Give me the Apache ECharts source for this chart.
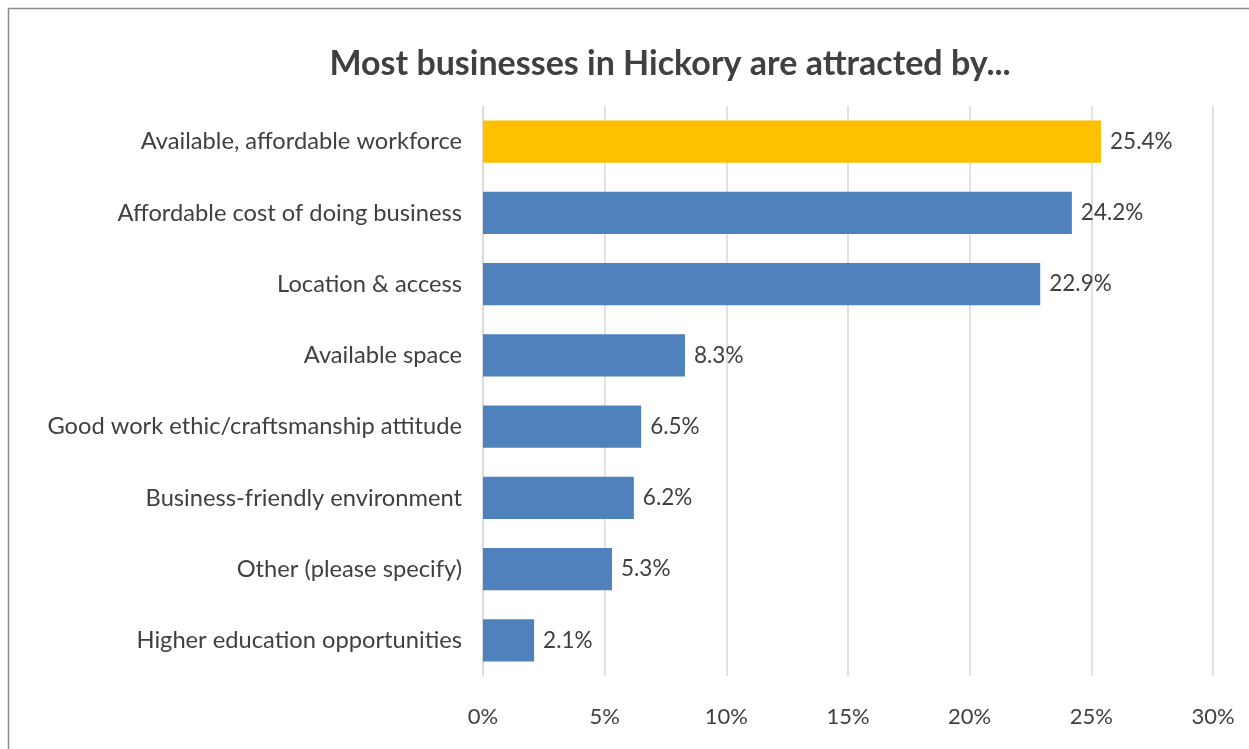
<!DOCTYPE html>
<html>
<head>
<meta charset="utf-8">
<script src="https://cdn.jsdelivr.net/npm/echarts@6/dist/echarts.min.js"></script>
<style>
  html, body { margin: 0; padding: 0; background: #ffffff; }
  #chart { width: 1249px; height: 749px; }
</style>
</head>
<body>
<div id="chart"></div>
<script>
// Reasons businesses give for locating in Hickory (share of responses, %)
const categories = [
  'Available, affordable workforce',
  'Affordable cost of doing business',
  'Location & access',
  'Available space',
  'Good work ethic/craftsmanship attitude',
  'Business-friendly environment',
  'Other (please specify)',
  'Higher education opportunities'
];
const values = [25.4, 24.2, 22.9, 8.3, 6.5, 6.2, 5.3, 2.1];
const highlightIndex = 0;

const FONT = 'Lato, "Open Sans", sans-serif';
const TEXT = '#404040';

const chart = echarts.init(document.getElementById('chart'), null, { renderer: 'canvas' });

chart.setOption({
  backgroundColor: '#ffffff',
  animation: false,
  title: {
    text: 'Most businesses in Hickory are attracted by...',
    left: 665,
    textAlign: 'center',
    top: 42,
    textStyle: { fontFamily: FONT, fontSize: 34, fontWeight: 'bold', color: TEXT }
  },
  graphic: [{
    type: 'rect',
    shape: { x: 8.5, y: 8.5, width: 1300, height: 800 },
    style: { fill: 'none', stroke: '#8c8c8c', lineWidth: 1.5 },
    silent: true
  }],
  grid: { left: 483, right: 36, top: 106, bottom: 73, containLabel: false },
  xAxis: {
    type: 'value',
    min: 0,
    max: 30,
    interval: 5,
    axisLine: { show: false },
    axisTick: { show: false },
    splitLine: { show: true, lineStyle: { color: '#d9d9d9', width: 1.5 } },
    axisLabel: {
      formatter: '{value}%',
      margin: 30,
      fontFamily: FONT, fontSize: 22, color: TEXT
    }
  },
  yAxis: {
    type: 'category',
    data: categories,
    inverse: true,
    axisLine: { show: true, lineStyle: { color: '#d9d9d9', width: 1.5 } },
    axisTick: { show: false },
    axisLabel: { margin: 21, fontFamily: FONT, fontSize: 23.7, color: TEXT }
  },
  series: [{
    type: 'bar',
    data: values.map((v, i) => ({
      value: v,
      itemStyle: { color: i === highlightIndex ? '#ffc000' : '#4f81bd' }
    })),
    barCategoryGap: '41%',
    label: {
      show: true,
      position: 'right',
      distance: 9,
      formatter: p => p.value.toFixed(1) + '%',
      fontFamily: FONT, fontSize: 22.5, color: TEXT
    }
  }]
});
</script>
</body>
</html>
